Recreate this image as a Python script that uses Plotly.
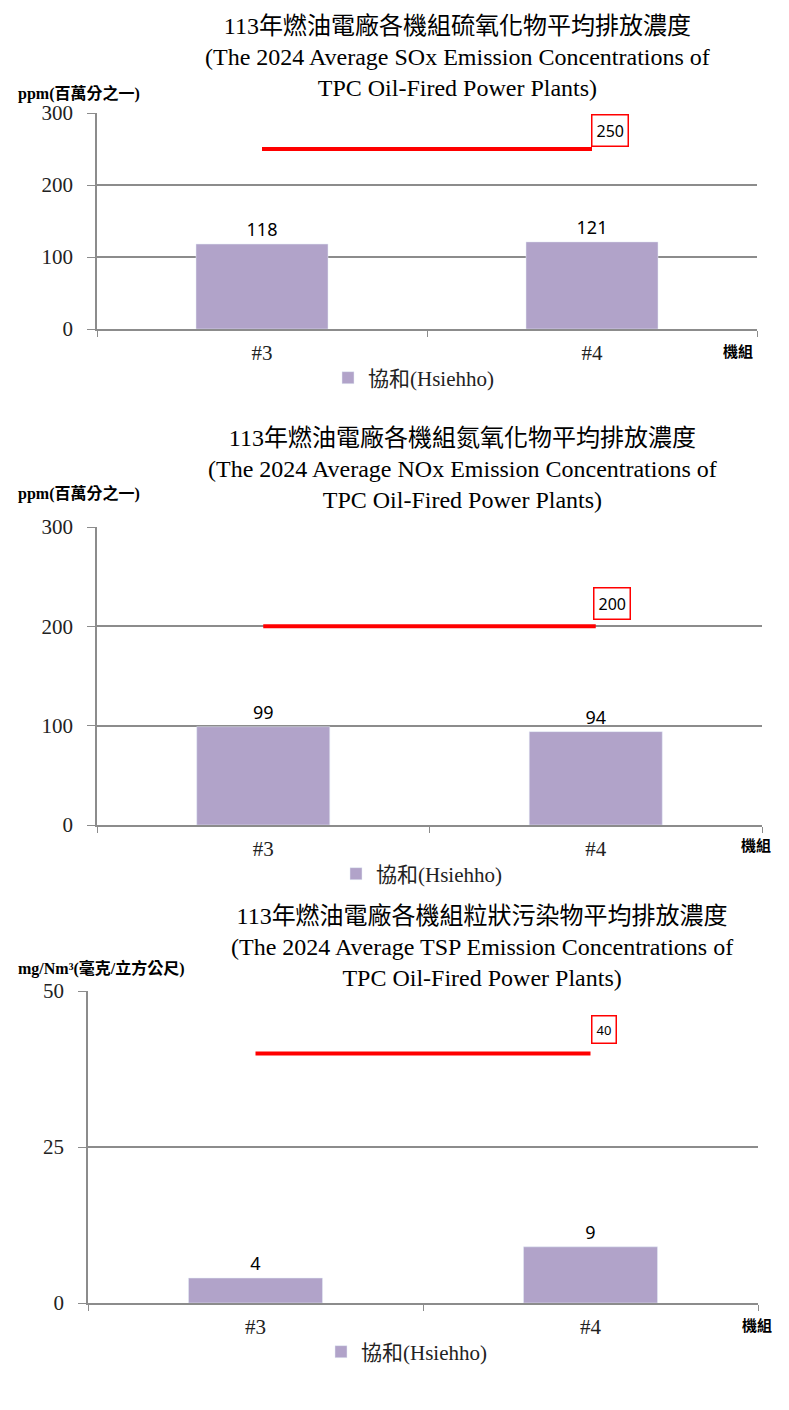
import plotly.graph_objects as go

# Units (機組) for every chart
units = ['#3', '#4']
plant_name = '協和(Hsiehho)'

# Average emission values
sox_values = [118, 121]
nox_values = [99, 94]
tsp_values = [4, 9]

# Regulatory limits (red lines)
sox_limit = 250
nox_limit = 200
tsp_limit = 40

titles = [
    '113年燃油電廠各機組硫氧化物平均排放濃度<br>(The 2024 Average SOx Emission Concentrations of<br>TPC Oil-Fired Power Plants)',
    '113年燃油電廠各機組氮氧化物平均排放濃度<br>(The 2024 Average NOx Emission Concentrations of<br>TPC Oil-Fired Power Plants)',
    '113年燃油電廠各機組粒狀污染物平均排放濃度<br>(The 2024 Average TSP Emission Concentrations of<br>TPC Oil-Fired Power Plants)',
]
y_units = ['ppm(百萬分之一)', 'ppm(百萬分之一)', 'mg/Nm³(毫克/立方公尺)']
y_ticks = [[0, 100, 200, 300], [0, 100, 200, 300], [0, 25, 50]]
y_ranges = [[0, 300], [0, 300], [0, 50]]

# page is 789x1410, the html body adds an 8px margin around the figure
PAGE_W, PAGE_H = 789, 1410
OFF = 8
W, H = PAGE_W - 2 * OFF, PAGE_H - 2 * OFF
BAR_COLOR = '#B1A3C9'
GRID = '#8C8C8C'
SERIF = 'Liberation Serif, Noto Sans CJK TC, serif'
SANS = 'Noto Sans, Liberation Sans, sans-serif'


def px_x(p):
    # page pixel -> paper fraction
    return (p - OFF) / W


def px_y(p):
    return 1 - (p - OFF) / H


def build_figure():
    fig = go.Figure()

    series = [sox_values, nox_values, tsp_values]
    limits = [sox_limit, nox_limit, tsp_limit]

    # pixel layout of each panel on the page: (left, right, top, bottom)
    boxes = [(97, 757, 113, 329), (97, 762, 527, 825), (88, 758, 991, 1303)]
    title_x = [457, 462, 482]
    title_y = [57, 469, 947]
    ylab_y = [93, 493, 968]
    unit_lbl = [(738, 351), (756, 845), (757, 1325)]
    legend_left = [328, 336, 321]
    legend_y = [378, 874, 1352]
    limit_shift = [(18, 19), (16, 23), (13, 24)]
    limit_font = [16, 16, 13]

    for i in range(3):
        n = '' if i == 0 else str(i + 1)
        xa, ya = 'x' + n, 'y' + n
        leg = 'legend' + n

        fig.add_trace(go.Bar(
            x=units, y=series[i], name=plant_name,
            marker_color=BAR_COLOR, width=0.4,
            text=[str(v) for v in series[i]], textposition='outside',
            textfont=dict(family=SANS, size=18, color='black'),
            cliponaxis=False,
            xaxis=xa, yaxis=ya, legend=leg, showlegend=True,
        ))
        fig.add_trace(go.Scatter(
            x=units, y=[limits[i]] * len(units), mode='lines',
            line=dict(color='#FF0000', width=4),
            xaxis=xa, yaxis=ya, showlegend=False, hoverinfo='skip',
        ))

        left, right, top, bottom = boxes[i]
        fig.update_layout(**{
            ('xaxis' + n): dict(
                domain=[px_x(left), px_x(right)], anchor=ya,
                type='category', tickson='boundaries', ticks='outside',
                ticklen=6, tickcolor=GRID, showline=True, linecolor=GRID,
                linewidth=1.5, showgrid=False, ticklabelstandoff=4,
                tickfont=dict(family=SERIF, size=21, color='#222'),
            ),
            ('yaxis' + n): dict(
                domain=[px_y(bottom), px_y(top)], anchor=xa,
                range=y_ranges[i], tickvals=y_ticks[i], ticks='outside',
                ticklen=8, tickcolor=GRID, showline=True, linecolor=GRID,
                linewidth=1.5, showgrid=True, gridcolor=GRID, gridwidth=1.5,
                zeroline=False, ticklabelstandoff=10,
                tickfont=dict(family=SERIF, size=21, color='#222'),
            ),
            leg: dict(
                x=px_x(legend_left[i]), y=px_y(legend_y[i]),
                xanchor='left', yanchor='middle', orientation='h',
                font=dict(family=SERIF, size=21, color='#222'),
                bgcolor='rgba(0,0,0,0)', itemwidth=30,
            ),
        })

        # title
        fig.add_annotation(
            text=titles[i], xref='paper', yref='paper',
            x=px_x(title_x[i]), y=px_y(title_y[i]),
            xanchor='center', yanchor='middle', showarrow=False,
            font=dict(family=SERIF, size=24, color='black'),
        )
        # y unit label
        fig.add_annotation(
            text='<b>' + y_units[i] + '</b>', xref='paper', yref='paper',
            x=px_x(16), y=px_y(ylab_y[i]), xanchor='left', yanchor='middle',
            showarrow=False, font=dict(family=SERIF, size=16, color='black'),
        )
        # x unit label
        fig.add_annotation(
            text='<b>機組</b>', xref='paper', yref='paper',
            x=px_x(unit_lbl[i][0]), y=px_y(unit_lbl[i][1]),
            xanchor='center', yanchor='middle', showarrow=False,
            font=dict(family=SERIF, size=15, color='black'),
        )
        # limit value box
        fig.add_annotation(
            text=str(limits[i]), xref=xa, yref=ya, x=units[-1], y=limits[i],
            xshift=limit_shift[i][0], yshift=limit_shift[i][1],
            showarrow=False, bordercolor='#FF0000', borderwidth=1.5,
            borderpad=4, bgcolor='white',
            font=dict(family=SANS, size=limit_font[i], color='black'),
        )

    fig.update_layout(
        width=W, height=H,
        margin=dict(l=0, r=0, t=0, b=0, autoexpand=False),
        plot_bgcolor='white', paper_bgcolor='white', bargap=0.6,
    )
    return fig


if __name__ == '__main__':
    fig = build_figure()
    fig.write_html('out.html')
